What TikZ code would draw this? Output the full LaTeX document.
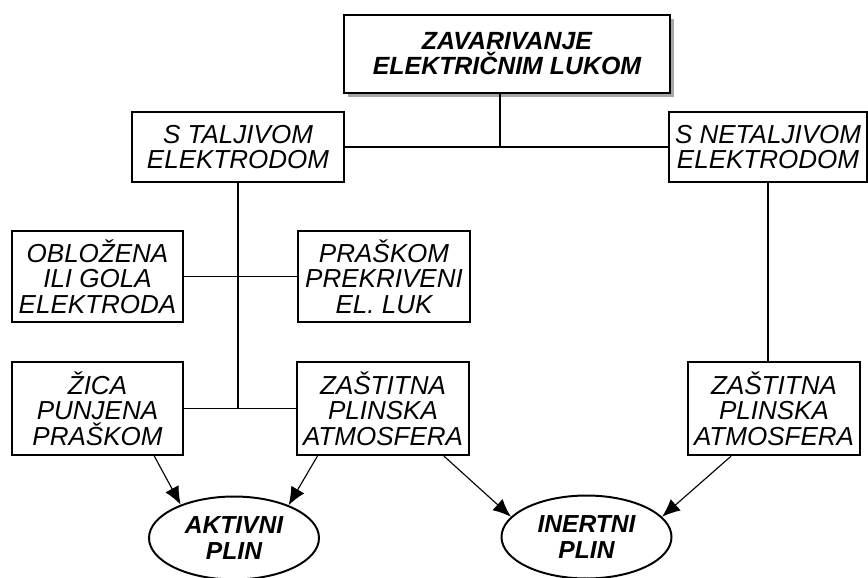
\documentclass[tikz,border=0pt]{standalone}
\usepackage{fontspec}
\setmainfont{Liberation Sans}
\usetikzlibrary{shapes.geometric,shadows,arrows.meta,calc}
\tikzset{>={Latex[length=12.8pt,width=10.7pt]}}
\tikzset{
  box/.style = {draw, line width=1.6pt, align=center, inner sep=0pt,
    font=\itshape\fontsize{18.5}{18}\selectfont},
  gas/.style = {ellipse, draw, line width=1.4pt, align=center, inner sep=0pt,
    minimum width=120.9pt, minimum height=59pt,
    font=\bfseries\itshape\fontsize{17.5}{18}\selectfont},
  link/.style = {line width=0.8pt}
}

\begin{document}
\begin{tikzpicture}[x=0.025cm,y=-0.025cm]
  \useasboundingbox (0,0) rectangle (868,578);
  \node[box,fill=white,minimum width=231.9pt,minimum height=55.5pt,
    drop shadow={shadow xshift=2.8pt,shadow yshift=-2.8pt,fill=gray!70,opacity=1},
    font=\bfseries\itshape\fontsize{17.7}{17.8}\selectfont]
    (zav) at (507,54) {ZAVARIVANJE\\ELEKTRIČNIM LUKOM};
  \node[box,minimum width=150.8pt,minimum height=49.8pt] (talj) at (238,147) {S TALJIVOM\\ELEKTRODOM};
  \node[box,minimum width=140.8pt,minimum height=49.8pt] (netalj) at (768,147) {S NETALJIVOM\\ELEKTRODOM};
  \node[box,minimum width=121.6pt,minimum height=64.7pt] (oblozena) at (97.5,276.5) {OBLOŽENA\\ILI GOLA\\ELEKTRODA};
  \node[box,minimum width=122.3pt,minimum height=64.7pt] (praskom) at (384,276.5) {PRAŠKOM\\PREKRIVENI\\EL. LUK};
  \node[box,minimum width=121.6pt,minimum height=66.2pt] (zica) at (97.5,408.5) {ŽICA\\PUNJENA\\PRAŠKOM};
  \node[box,minimum width=122.3pt,minimum height=66.2pt] (zastA) at (383,408.5) {ZAŠTITNA\\PLINSKA\\ATMOSFERA};
  \node[box,minimum width=122.3pt,minimum height=66.2pt] (zastB) at (774,408.5) {ZAŠTITNA\\PLINSKA\\ATMOSFERA};
  \node[gas] (aktivni) at (234,538) {AKTIVNI\\PLIN};
  \node[gas] (inertni) at (586.5,537) {INERTNI\\PLIN};

  \draw[link] (talj) -- (netalj);
  \coordinate (zavfoot) at ($(zav.south)+(-7,0)$);
  \draw[link] (zavfoot) -- (zavfoot |- talj);
  \draw[link] (netalj.south) -- (netalj.south |- zastB.north);
  \draw[link] (oblozena) -- (praskom);
  \draw[link] (zica) -- (zastA);
  \draw[link] (talj) -- (talj |- zica);
  \draw[link,->] (zica.-40) -- (aktivni.148);
  \draw[link,->] (zastA.-144) -- (aktivni.31);
  \draw[link,->] (zastA.-38) -- (inertni.165);
  \draw[link,->] (zastB.-132) -- (inertni.15);
\end{tikzpicture}
\end{document}
